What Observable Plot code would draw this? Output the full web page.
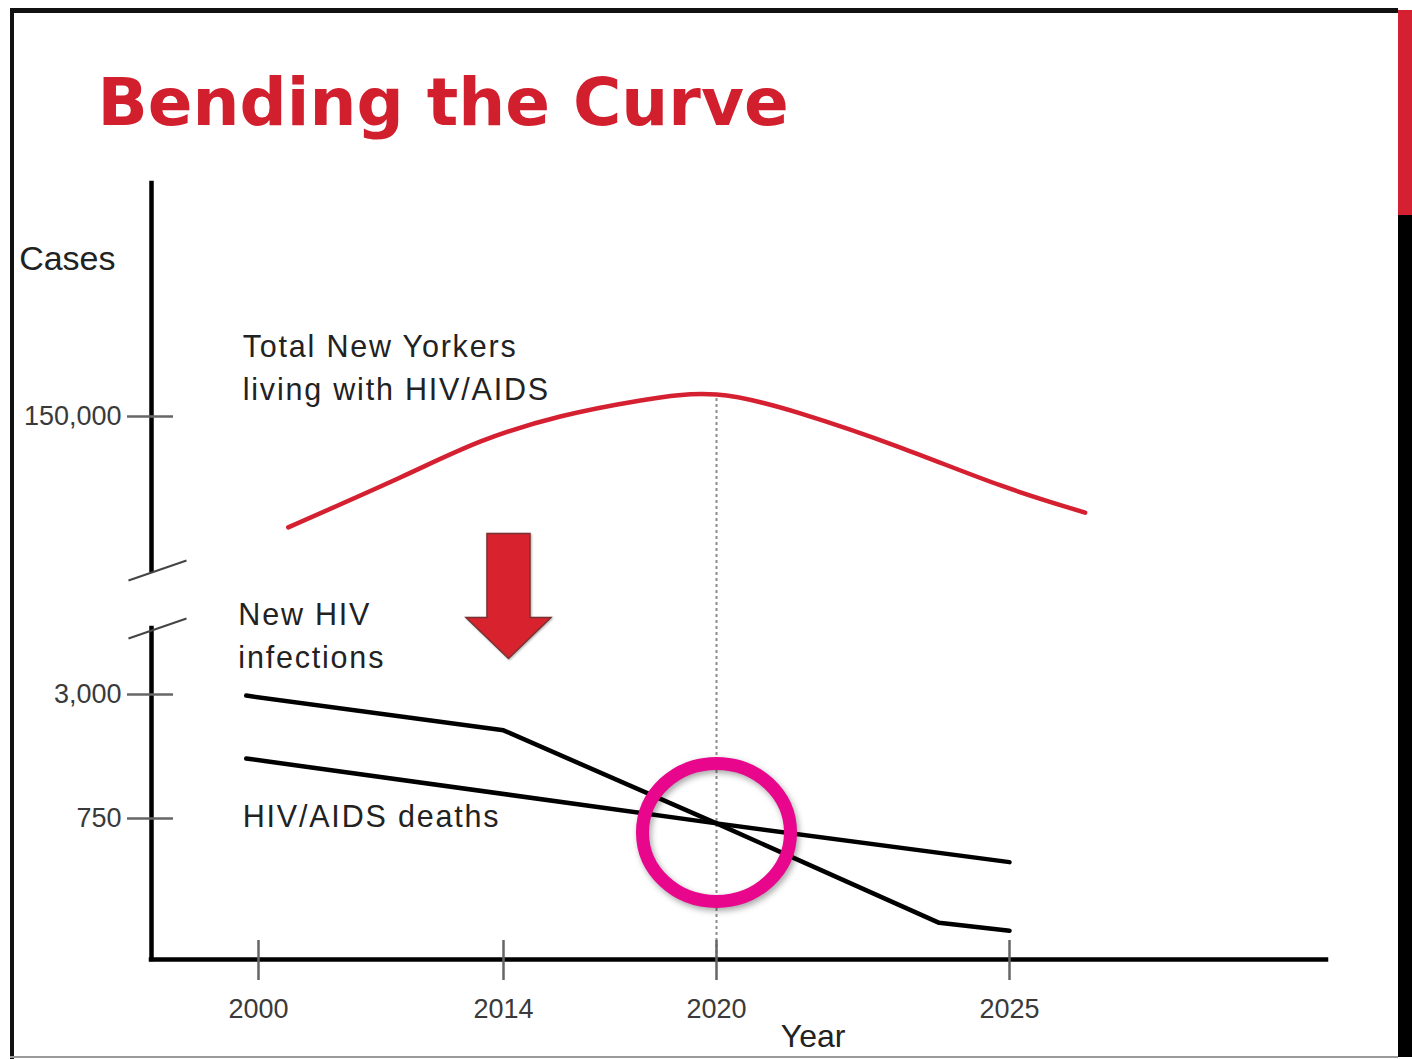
<!DOCTYPE html>
<html><head><meta charset="utf-8">
<script src="https://cdn.jsdelivr.net/npm/d3@7"></script>
<script src="https://cdn.jsdelivr.net/npm/@observablehq/plot@0.6"></script>
<style>
html,body{margin:0;padding:0;background:#fff;}
#slide{position:relative;width:1412px;height:1059px;overflow:hidden;background:#fff;}
#chart{position:absolute;left:0;top:0;}
.edge{position:absolute;}
g[aria-description="series labels"] text{letter-spacing:1.8px;}
g[aria-description="focus ring"]{filter:drop-shadow(2px 3px 3px rgba(0,0,0,0.35));}
g[aria-description="down arrow"]{filter:drop-shadow(1px 1px 1px rgba(0,0,0,0.3));}
</style></head><body>
<div id="slide">
  <div id="chart"></div>
  <div class="edge" style="left:10px;top:8px;width:1388px;height:5px;background:#111"></div>
  <div class="edge" style="left:10px;top:8px;width:4px;height:1051px;background:#111"></div>
  <div class="edge" style="left:1398px;top:10px;width:14px;height:205px;background:#d42030"></div>
  <div class="edge" style="left:1398px;top:215px;width:14px;height:842px;background:#000"></div>
  <div class="edge" style="left:10px;top:1056px;width:1388px;height:2px;background:#9a9a9a"></div>
</div>
<script>
// ---------- data (schematic values) ----------
const title = "Bending the Curve";
const yearTicks = [2000, 2014, 2020, 2025];
const caseTicks = [150000, 3000, 750];
const caseTickLabels = ["150,000", "3,000", "750"];

// Total New Yorkers living with HIV/AIDS
const totalYears = [2001.7, 2008.1, 2012.7, 2015.6, 2017.86, 2020, 2021.43, 2023.14, 2024.85, 2026.3];
const totalCases = [114000, 130200, 141900, 150000, 155200, 157100, 151000, 139900, 127600, 118800];

// New HIV infections
const newInfYears = [1999.3, 2014, 2020, 2023.8, 2025];
const newInfCases = [2980, 2350, 724, 195, 153];

// HIV/AIDS deaths
const deathYears = [1999.3, 2020, 2025];
const deathCases = [1839, 724, 518];

// annotations
const seriesLabels = [
  {text: "Total New Yorkers\nliving with HIV/AIDS", year: 1999.1, cases: 166900},
  {text: "New HIV\ninfections", year: 1998.85, cases: 5818},
  {text: "HIV/AIDS deaths", year: 1999.1, cases: 841}
];
const peakYear = 2020;
const peakCases = 157100;
const ringAt = [{year: 2020, cases: 676}];
const arrowAt = [{year: 2014.14, cases: 4636}];
const axisYear = 1993.9, axisEndYear = 2030.45;
const breakLo = 6000, breakHi = 100000, yTop = 225600;
const yAxisLabel = "Cases", yAxisLabelAt = 201000;
const xAxisLabel = "Year", xAxisLabelAt = 2021.65;

// ---------- build ----------
const total = totalYears.map((year, i) => ({year, cases: totalCases[i]}));
const newInf = newInfYears.map((year, i) => ({year, cases: newInfCases[i]}));
const deaths = deathYears.map((year, i) => ({year, cases: deathCases[i]}));
const yTickData = caseTicks.map((v, i) => ({v, label: caseTickLabels[i]}));

const downArrow = {draw(ctx) { // tip at origin
  ctx.moveTo(-21.5, -125); ctx.lineTo(21.5, -125); ctx.lineTo(21.5, -41);
  ctx.lineTo(42.5, -41); ctx.lineTo(0, 0); ctx.lineTo(-42.5, -41);
  ctx.lineTo(-21.5, -41); ctx.closePath();
}};
const ring = {draw(ctx) {
  const rx = 74, ry = 69, k = 0.5523;
  ctx.moveTo(rx, 0);
  ctx.bezierCurveTo(rx, ry * k, rx * k, ry, 0, ry);
  ctx.bezierCurveTo(-rx * k, ry, -rx, ry * k, -rx, 0);
  ctx.bezierCurveTo(-rx, -ry * k, -rx * k, -ry, 0, -ry);
  ctx.bezierCurveTo(rx * k, -ry, rx, -ry * k, rx, 0);
  ctx.closePath();
}};
const slash = {draw(ctx) { ctx.moveTo(-29, 10); ctx.lineTo(29, -10); }};

const font = "Liberation Sans, Arial, Helvetica, sans-serif";

const chart = Plot.plot({
  width: 1412, height: 1059,
  marginTop: 0, marginRight: 0, marginBottom: 0, marginLeft: 0,
  style: {background: "transparent", overflow: "visible"},
  x: {type: "linear", domain: [axisYear, 2000, 2014, 2020, 2025, axisEndYear], range: [151, 258, 503, 716, 1009, 1326], axis: null},
  y: {type: "linear", domain: [0, 750, 3000, breakLo, breakHi, 150000, yTop], range: [959, 818, 694, 628, 570, 416, 183], axis: null},
  marks: [
    // title
    Plot.text([title], {frameAnchor: "top-left", dx: 97, dy: 78, lineAnchor: "top", textAnchor: "start",
      fontFamily: "DejaVu Sans, sans-serif", fontWeight: "bold", fontSize: 66, fill: "#d21f2e"}),
    // dashed guide at the peak year
    Plot.ruleX([peakYear], {x: d => d, y1: 0, y2: peakCases, stroke: "#8c8c8c", strokeWidth: 2, strokeDasharray: "3,3"}),
    // axes
    Plot.ruleX([{a: 0, b: breakLo}, {a: breakHi, b: yTop}], {x: axisYear, y1: "a", y2: "b", stroke: "#000", strokeWidth: 4.5, strokeLinecap: "square"}),
    Plot.ruleY([0], {y: d => d, x1: axisYear, x2: axisEndYear, stroke: "#000", strokeWidth: 4.5, strokeLinecap: "square"}),
    Plot.dot([breakLo, breakHi], {x: axisYear, y: d => d, dx: 6, symbol: slash, r: 1, fill: "none", stroke: "#444", strokeWidth: 2}),
    Plot.ruleY(caseTicks, {y: d => d, x1: axisYear, x2: axisYear, insetLeft: -24, insetRight: -22, stroke: "#666", strokeWidth: 2.5}),
    Plot.ruleX(yearTicks, {x: d => d, y1: 0, y2: 0, insetTop: -19, insetBottom: -21, stroke: "#666", strokeWidth: 2.5}),
    Plot.text(yTickData, {x: axisYear, y: "v", text: "label", dx: -30, textAnchor: "end", fontFamily: font, fontSize: 27, fill: "#3a3a3a"}),
    Plot.text(yearTicks, {x: d => d, y: 0, dy: 50, text: d => String(d), fontFamily: font, fontSize: 27, fill: "#3a3a3a"}),
    Plot.text([yAxisLabel], {x: axisYear, y: yAxisLabelAt, dx: -36, textAnchor: "end", fontFamily: font, fontSize: 34, fill: "#222"}),
    Plot.text([xAxisLabel], {x: xAxisLabelAt, y: 0, dy: 77, fontFamily: font, fontSize: 32, fill: "#222"}),
    // series
    Plot.line(total, {x: "year", y: "cases", curve: "natural", stroke: "#d42030", strokeWidth: 4.5}),
    Plot.line(newInf, {x: "year", y: "cases", stroke: "#000", strokeWidth: 4.5, strokeLinejoin: "round"}),
    Plot.line(deaths, {x: "year", y: "cases", stroke: "#000", strokeWidth: 4.5, strokeLinejoin: "round"}),
    // labels
    Plot.text(seriesLabels, {x: "year", y: "cases", text: "text", textAnchor: "start", lineHeight: 1.42,
      fontFamily: font, fontSize: 30.5, fill: "#222", ariaDescription: "series labels"}),
    // arrow + ring
    Plot.dot(arrowAt, {x: "year", y: "cases", symbol: downArrow, r: 1, fill: "#d8232f", stroke: "#7a3030", strokeWidth: 1.5, ariaDescription: "down arrow"}),
    Plot.dot(ringAt, {x: "year", y: "cases", symbol: ring, r: 1, fill: "none", stroke: "#e8078c", strokeWidth: 13, ariaDescription: "focus ring"})
  ]
});
document.getElementById("chart").appendChild(chart);
</script>
</body></html>
